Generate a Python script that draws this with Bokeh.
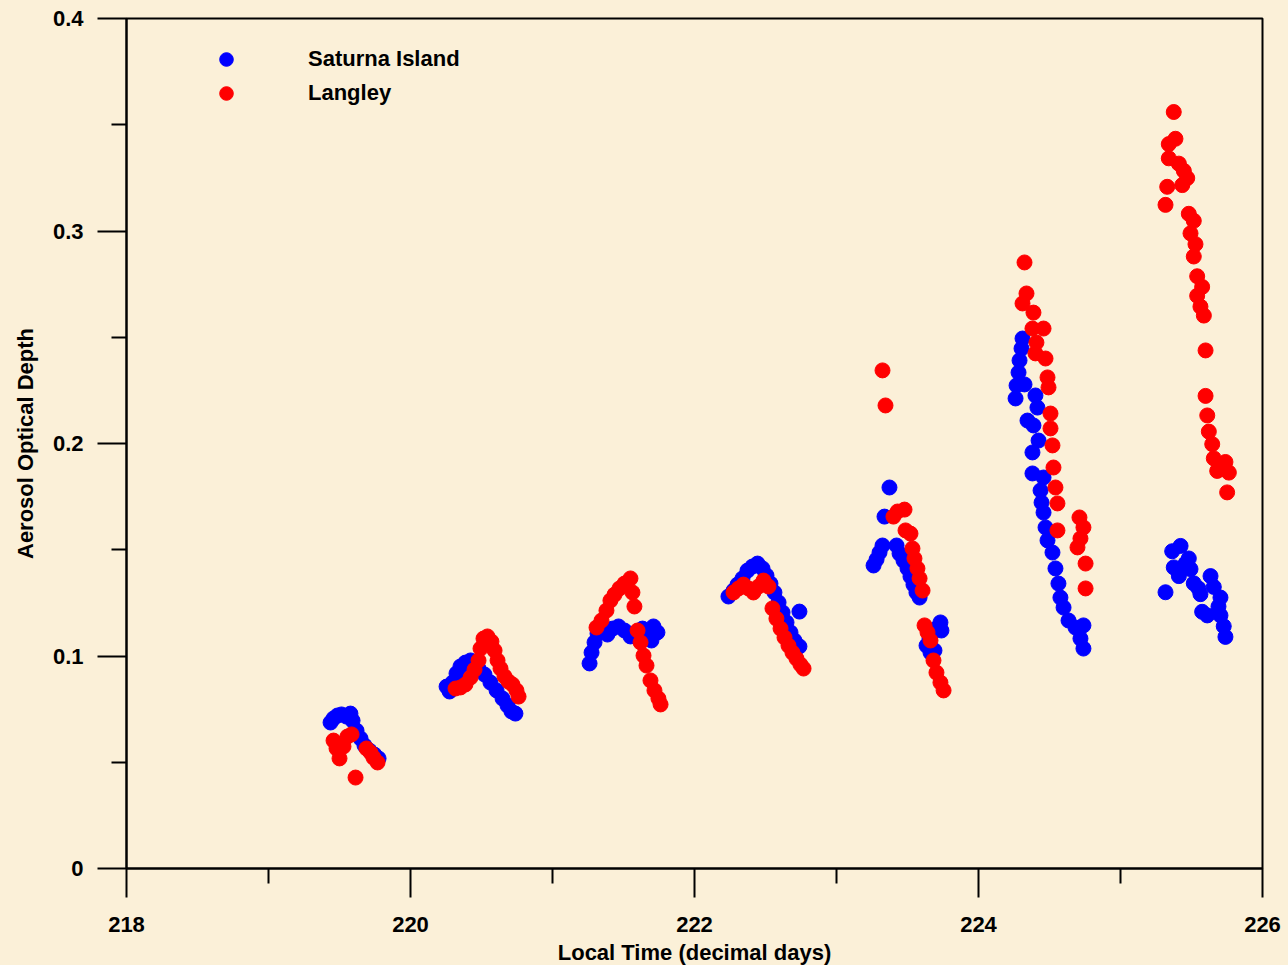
from bokeh.plotting import figure
from bokeh.models import Range1d, FixedTicker, Legend, LegendItem
from bokeh.embed import file_html
from bokeh.resources import INLINE

# ---------------- data ----------------
sat_day = [
    219.437, 219.458, 219.486, 219.514, 219.549, 219.577, 219.592, 219.620, 219.648, 219.676, 219.711, 219.746, 219.775,
    220.254, 220.275, 220.296, 220.324, 220.352, 220.387, 220.423, 220.451, 220.479, 220.521, 220.563, 220.606, 220.648, 220.683, 220.711, 220.739,
    221.261, 221.275, 221.296, 221.317, 221.352, 221.387, 221.423, 221.465, 221.507, 221.549, 221.592, 221.634, 221.676, 221.711, 221.739, 221.697,
    222.239, 222.275, 222.303, 222.338, 222.373, 222.408, 222.444, 222.479, 222.507, 222.535, 222.563, 222.592, 222.620, 222.648, 222.676, 222.704, 222.739, 222.739,
    223.261, 223.282, 223.303, 223.324, 223.338, 223.373, 223.423, 223.444, 223.472, 223.500, 223.521, 223.542, 223.563, 223.585, 223.634, 223.655, 223.676, 223.704, 223.732, 223.739, 223.690, 223.662,
    224.310, 224.303, 224.289, 224.282, 224.268, 224.261, 224.324, 224.401, 224.415, 224.345, 224.387, 224.423, 224.380, 224.380, 224.458, 224.437, 224.444, 224.458, 224.472, 224.486, 224.521, 224.542, 224.563, 224.577, 224.599, 224.634, 224.683, 224.739, 224.718, 224.739,
    225.423, 225.364, 225.481, 225.375, 225.493, 225.411, 225.317, 225.516, 225.634, 225.657, 225.563, 225.704, 225.575, 225.611, 225.704, 225.727, 225.739, 225.458, 225.549, 225.690,
]
sat_aod = [
    0.0687, 0.0706, 0.0720, 0.0725, 0.0715, 0.0729, 0.0696, 0.0649, 0.0612, 0.0579, 0.0555, 0.0536, 0.0518,
    0.0856, 0.0833, 0.0875, 0.0918, 0.0951, 0.0969, 0.0979, 0.0965, 0.0941, 0.0913, 0.0875, 0.0838, 0.0800, 0.0767, 0.0739, 0.0729,
    0.0965, 0.1016, 0.1064, 0.1106, 0.1120, 0.1101, 0.1129, 0.1139, 0.1120, 0.1092, 0.1111, 0.1129, 0.1111, 0.1139, 0.1111, 0.1073,
    0.1280, 0.1308, 0.1336, 0.1365, 0.1402, 0.1421, 0.1435, 0.1412, 0.1379, 0.1341, 0.1299, 0.1252, 0.1205, 0.1158, 0.1111, 0.1073, 0.1045, 0.1209,
    0.1426, 0.1454, 0.1487, 0.1520, 0.1656, 0.1793, 0.1520, 0.1482, 0.1449, 0.1412, 0.1374, 0.1336, 0.1299, 0.1275, 0.1049, 0.1082, 0.1111, 0.1129, 0.1158, 0.1120, 0.1026, 0.1016,
    0.2494, 0.2447, 0.2391, 0.2334, 0.2273, 0.2212, 0.2278, 0.2226, 0.2169, 0.2108, 0.2085, 0.2014, 0.1958, 0.1859, 0.1840, 0.1779, 0.1722, 0.1675, 0.1605, 0.1544, 0.1487, 0.1412, 0.1341, 0.1275, 0.1228, 0.1167, 0.1134, 0.1144, 0.1082, 0.1035,
    0.1518, 0.1493, 0.1459, 0.1417, 0.1409, 0.1376, 0.1300, 0.1342, 0.1376, 0.1325, 0.1291, 0.1275, 0.1208, 0.1191, 0.1191, 0.1140, 0.1090, 0.1435, 0.1318, 0.1233,
]

lan_day = [
    219.458, 219.479, 219.500, 219.528, 219.556, 219.585, 219.613, 219.690, 219.718, 219.739, 219.768,
    220.317, 220.352, 220.387, 220.423, 220.451, 220.479, 220.493, 220.514, 220.542, 220.570, 220.592, 220.613, 220.634, 220.662, 220.690, 220.718, 220.746, 220.761,
    221.310, 221.345, 221.380, 221.408, 221.437, 221.472, 221.507, 221.549, 221.563, 221.577, 221.599, 221.620, 221.641, 221.662, 221.690, 221.718, 221.746, 221.761,
    222.275, 222.310, 222.345, 222.380, 222.415, 222.451, 222.486, 222.521, 222.549, 222.577, 222.606, 222.634, 222.662, 222.690, 222.718, 222.746, 222.768,
    223.324, 223.345, 223.401, 223.430, 223.479, 223.486, 223.521, 223.535, 223.549, 223.570, 223.585, 223.606, 223.620, 223.641, 223.662, 223.683, 223.704, 223.732, 223.754,
    224.324, 224.338, 224.310, 224.387, 224.380, 224.458, 224.408, 224.401, 224.472, 224.486, 224.493, 224.507, 224.507, 224.521, 224.528, 224.542, 224.556, 224.556, 224.711, 224.739, 224.697, 224.718, 224.754, 224.754,
    225.375, 225.387, 225.340, 225.340, 225.411, 225.446, 225.470, 225.435, 225.329, 225.317, 225.481, 225.516, 225.493, 225.528, 225.516, 225.540, 225.575, 225.540, 225.563, 225.587, 225.599, 225.599, 225.611, 225.622, 225.646, 225.657, 225.681, 225.739, 225.763, 225.751,
]
lan_aod = [
    0.0602, 0.0565, 0.0518, 0.0574, 0.0621, 0.0631, 0.0428, 0.0565, 0.0546, 0.0522, 0.0499,
    0.0847, 0.0852, 0.0866, 0.0899, 0.0936, 0.0979, 0.1035, 0.1082, 0.1092, 0.1068, 0.1026, 0.0979, 0.0941, 0.0904, 0.0880, 0.0866, 0.0838, 0.0809,
    0.1134, 0.1167, 0.1214, 0.1261, 0.1289, 0.1318, 0.1341, 0.1365, 0.1299, 0.1233, 0.1120, 0.1064, 0.1002, 0.0955, 0.0885, 0.0838, 0.0800, 0.0772,
    0.1299, 0.1318, 0.1336, 0.1318, 0.1299, 0.1327, 0.1355, 0.1327, 0.1224, 0.1176, 0.1129, 0.1087, 0.1049, 0.1016, 0.0988, 0.0960, 0.0941,
    0.2344, 0.2179, 0.1656, 0.1680, 0.1689, 0.1591, 0.1576, 0.1506, 0.1459, 0.1412, 0.1365, 0.1308, 0.1144, 0.1111, 0.1073, 0.0979, 0.0922, 0.0875, 0.0838,
    0.2852, 0.2706, 0.2659, 0.2616, 0.2541, 0.2541, 0.2475, 0.2424, 0.2400, 0.2311, 0.2264, 0.2141, 0.2071, 0.1991, 0.1887, 0.1793, 0.1718, 0.1591, 0.1652, 0.1605, 0.1511, 0.1553, 0.1435, 0.1318,
    0.3560, 0.3434, 0.3409, 0.3342, 0.3317, 0.3283, 0.3249, 0.3216, 0.3208, 0.3123, 0.3081, 0.3048, 0.2989, 0.2938, 0.2880, 0.2787, 0.2737, 0.2695, 0.2644, 0.2602, 0.2438, 0.2224, 0.2132, 0.2056, 0.1997, 0.1930, 0.1871, 0.1913, 0.1863, 0.1770,
]

series_names = ["Saturna Island", "Langley"]
x_ticks = [218, 220, 222, 224, 226]
x_minor = [219, 221, 223, 225]
y_ticks = [0, 0.1, 0.2, 0.3, 0.4]
y_tick_labels = ["0", "0.1", "0.2", "0.3", "0.4"]
y_minor = [0.05, 0.15, 0.25, 0.35]
x_title = "Local Time (decimal days)"
y_title = "Aerosol Optical Depth"

BG = "#FBF0D8"
FONT = "Liberation Sans"

p = figure(frame_width=1136, frame_height=850,
           x_range=Range1d(218, 226), y_range=Range1d(0, 0.4),
           output_backend="svg", toolbar_location=None,
           min_border_left=118, min_border_right=26, min_border_top=18, min_border_bottom=97,
           background_fill_color=BG, border_fill_color=BG)
p.grid.visible = False
p.outline_line_color = "black"
p.outline_line_width = 2

r1 = p.scatter(sat_day, sat_aod, size=15, color="#0000FF", line_color="#0000FF")
r2 = p.scatter(lan_day, lan_aod, size=15, color="#FF0000", line_color="#FF0000")

for ax in (p.xaxis[0], p.yaxis[0]):
    ax.axis_line_width = 2
    ax.major_tick_line_width = 2
    ax.minor_tick_line_width = 2
    ax.major_tick_in = 0
    ax.major_tick_out = 29
    ax.minor_tick_in = 0
    ax.minor_tick_out = 15
    ax.major_label_text_font = FONT
    ax.major_label_text_font_style = "bold"
    ax.major_label_text_font_size = "22px"
    ax.major_label_text_color = "black"
    ax.axis_label_text_font = FONT
    ax.axis_label_text_font_style = "bold"
    ax.axis_label_text_font_size = "22px"
    ax.axis_label_text_color = "black"

p.xaxis.ticker = FixedTicker(ticks=x_ticks, minor_ticks=x_minor)
p.yaxis.ticker = FixedTicker(ticks=y_ticks, minor_ticks=y_minor)
p.yaxis.major_label_overrides = {t: l for t, l in zip(y_ticks, y_tick_labels)}
p.xaxis.axis_label = x_title
p.yaxis.axis_label = y_title
p.xaxis.major_label_standoff = 19
p.xaxis.axis_label_standoff = 5
p.yaxis.major_label_standoff = 14
p.yaxis.axis_label_standoff = 12

legend = Legend(items=[LegendItem(label=series_names[0], renderers=[r1]),
                       LegendItem(label=series_names[1], renderers=[r2])],
                location=(81, 758), orientation="vertical",
                background_fill_alpha=0, border_line_alpha=0,
                padding=0, margin=0, spacing=0,
                glyph_width=38, glyph_height=34, label_height=34,
                label_standoff=63, label_text_font=FONT, label_text_font_style="bold",
                label_text_font_size="22px", label_text_color="black")
p.add_layout(legend)

html = file_html(p, INLINE, title="AOD")
html = html.replace("</head>", "<style>html,body{background:%s;overflow:hidden;} body{margin:0 0 0 8px;}</style></head>" % BG, 1)
open("out.html", "w").write(html)
